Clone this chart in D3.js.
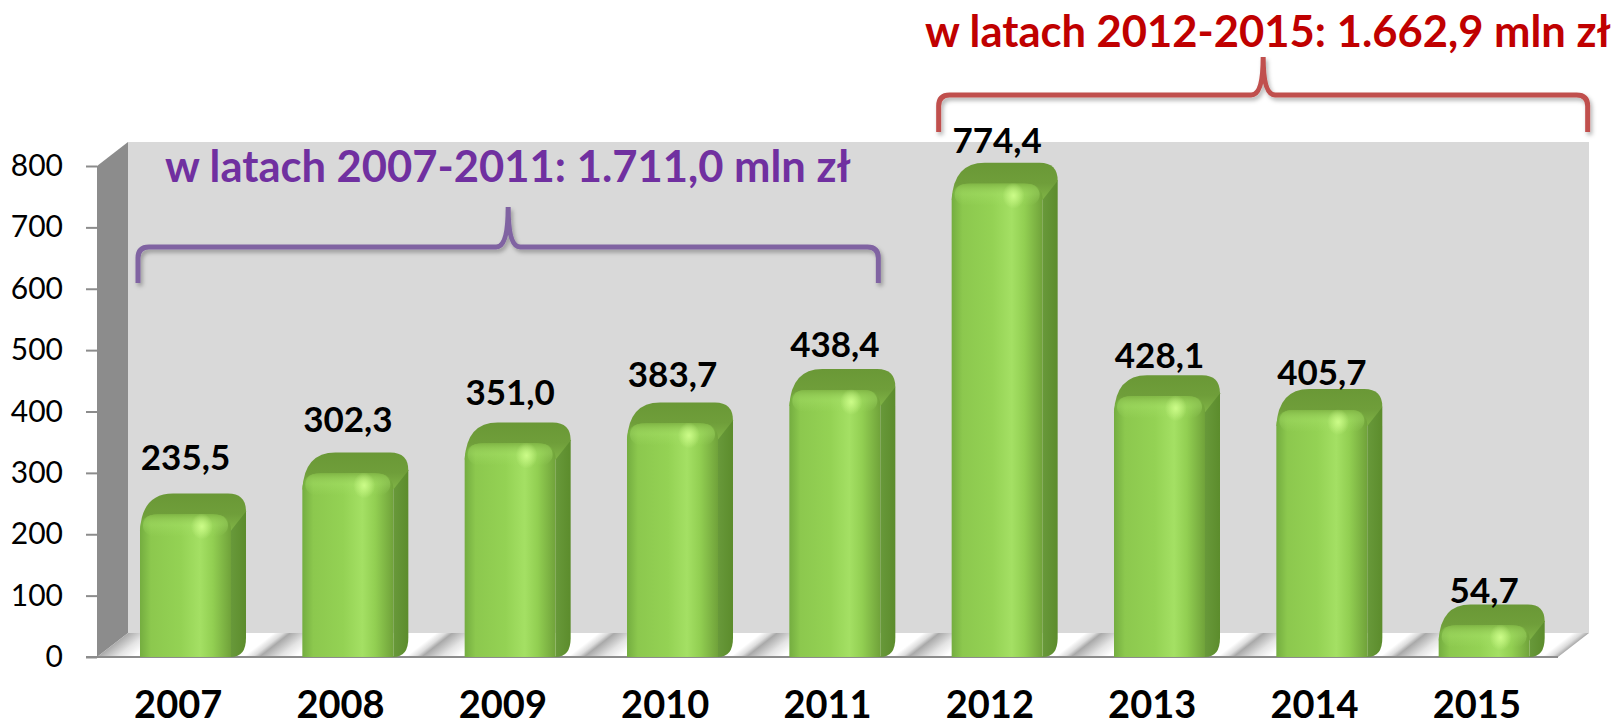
<!DOCTYPE html>
<html>
<head>
<meta charset="utf-8">
<script src="https://cdn.jsdelivr.net/npm/d3@7"></script>
<style>
  body { margin: 0; background: #fff; }
  svg { display: block; }
  text { font-family: Lato, "Open Sans", sans-serif; }
</style>
</head>
<body>
<div id="chart"></div>
<script>
var years = ["2007", "2008", "2009", "2010", "2011", "2012", "2013", "2014", "2015"];
var values = [235.5, 302.3, 351.0, 383.7, 438.4, 774.4, 428.1, 405.7, 54.7];
var yTicks = [0, 100, 200, 300, 400, 500, 600, 700, 800];
var groupTitles = ["w latach 2007-2011: 1.711,0 mln zł", "w latach 2012-2015: 1.662,9 mln zł"];
var groupYears = [["2007", "2011"], ["2012", "2015"]];

var svgWidth = 1617;
var svgHeight = 727;

// front edge of the plot, and the 3d depth of walls / bars
var plotLeft = 97, plotRight = 1558, plotBottom = 657, plotTop = 166;
var depthX = 31, depthY = -24;
var barDX = 15, barDY = -19;
var barOffset = 43, barWidth = 91;

var svg = d3.select("#chart").append("svg")
    .attr("width", svgWidth)
    .attr("height", svgHeight);

var defs = svg.append("defs");

var x = d3.scaleBand().domain(years).range([plotLeft, plotRight]);
var y = d3.scaleLinear().domain([0, 800]).range([plotBottom, plotTop]);

// gradients
var front = defs.append("linearGradient").attr("id", "barFront")
    .attr("x1", 0).attr("x2", 1).attr("y1", 0).attr("y2", 0);
[[0, "#74ad40"], [0.12, "#8cc84e"], [0.45, "#94d254"], [0.66, "#a4e064"],
 [0.8, "#92cf52"], [1, "#70a23a"]].forEach(function(s) {
    front.append("stop").attr("offset", s[0]).attr("stop-color", s[1]);
});
var side = defs.append("linearGradient").attr("id", "barSide")
    .attr("x1", 0).attr("x2", 1).attr("y1", 0).attr("y2", 0);
side.append("stop").attr("offset", 0).attr("stop-color", "#68993a");
side.append("stop").attr("offset", 1).attr("stop-color", "#5c8c2c");

var topGrad = defs.append("linearGradient").attr("id", "barTop")
    .attr("x1", 0).attr("x2", 0).attr("y1", 1).attr("y2", 0);
topGrad.append("stop").attr("offset", 0).attr("stop-color", "#80b446");
topGrad.append("stop").attr("offset", 0.45).attr("stop-color", "#6f9e3a");
topGrad.append("stop").attr("offset", 1).attr("stop-color", "#6a9836");

var bevel = defs.append("linearGradient").attr("id", "bevel")
    .attr("x1", 0).attr("x2", 0).attr("y1", 0).attr("y2", 1);
bevel.append("stop").attr("offset", 0).attr("stop-color", "#7fb444").attr("stop-opacity", 0.9);
bevel.append("stop").attr("offset", 0.5).attr("stop-color", "#a8e26a").attr("stop-opacity", 0.35);
bevel.append("stop").attr("offset", 1).attr("stop-color", "#a8e26a").attr("stop-opacity", 0);

var spot = defs.append("radialGradient").attr("id", "spot");
spot.append("stop").attr("offset", 0).attr("stop-color", "#d0ff8c").attr("stop-opacity", 0.9);
spot.append("stop").attr("offset", 1).attr("stop-color", "#d0ff8c").attr("stop-opacity", 0);

var floorGrad = defs.append("linearGradient").attr("id", "floorGrad")
    .attr("gradientUnits", "userSpaceOnUse")
    .attr("x1", plotLeft).attr("x2", plotLeft + x.step()).attr("y1", plotBottom).attr("y2", plotBottom)
    .attr("spreadMethod", "repeat")
    .attr("gradientTransform", "translate(" + plotLeft + "," + plotBottom + ") skewX(-52) translate(" + (-plotLeft) + "," + (-plotBottom) + ")");
[[0, "#a9a9a9"], [0.12, "#e4e4e4"], [0.22, "#ffffff"], [0.9, "#ffffff"], [0.96, "#dcdcdc"], [1, "#a9a9a9"]]
    .forEach(function(s) {
        floorGrad.append("stop").attr("offset", s[0]).attr("stop-color", s[1]);
    });

var shadow = defs.append("filter").attr("id", "shadow")
    .attr("x", "-5%").attr("y", "-20%").attr("width", "110%").attr("height", "160%");
shadow.append("feDropShadow").attr("dx", 2).attr("dy", 3).attr("stdDeviation", 2)
    .attr("flood-color", "#000").attr("flood-opacity", 0.3);

// walls
var walls = svg.append("g");
walls.append("rect")
    .attr("x", plotLeft + depthX).attr("y", plotTop + depthY)
    .attr("width", plotRight - plotLeft).attr("height", plotBottom - plotTop)
    .attr("fill", "#d9d9d9");
walls.append("path")
    .attr("d", "M" + plotLeft + "," + plotTop + " L" + (plotLeft + depthX) + "," + (plotTop + depthY) +
        " L" + (plotLeft + depthX) + "," + (plotBottom + depthY) + " L" + plotLeft + "," + plotBottom + " Z")
    .attr("fill", "#8c8c8c");
walls.append("path")
    .attr("d", "M" + plotLeft + "," + plotBottom + " L" + (plotLeft + depthX) + "," + (plotBottom + depthY) +
        " L" + (plotRight + depthX) + "," + (plotBottom + depthY) + " L" + plotRight + "," + plotBottom + " Z")
    .attr("fill", "url(#floorGrad)");
walls.append("line")
    .attr("x1", 86).attr("x2", plotRight).attr("y1", plotBottom).attr("y2", plotBottom)
    .attr("stroke", "#8c8c8c").attr("stroke-width", 2);

// y axis
var yAxis = svg.append("g")
    .attr("transform", "translate(" + plotLeft + ",0)")
    .call(d3.axisLeft(y).tickValues(yTicks).tickSize(11).tickPadding(23));
yAxis.select(".domain").remove();
yAxis.selectAll(".tick line").attr("stroke", "#8c8c8c").attr("stroke-width", 2);
yAxis.selectAll(".tick text")
    .attr("font-size", "30px").attr("fill", "#000")
    .style("font-family", "Lato, sans-serif");

// x axis labels
var xAxis = svg.append("g")
    .attr("transform", "translate(0," + plotBottom + ")")
    .call(d3.axisBottom(x).tickSize(0).tickPadding(0));
xAxis.select(".domain").remove();
xAxis.selectAll(".tick text")
    .attr("y", 61).attr("dy", 0)
    .attr("font-size", "38px").attr("font-weight", "bold").attr("fill", "#000")
    .style("font-family", "Lato, sans-serif");

// bars
var bars = svg.append("g").selectAll("g").data(years).enter().append("g");

bars.each(function(yr, i) {
    var g = d3.select(this);
    var x0 = x(yr) + barOffset, x1 = x0 + barWidth;
    var yt = y(values[i]), yb = y(0);
    var r = Math.min(18, (yb - yt) / 2);

    // side face
    g.append("path")
        .attr("d", "M" + x1 + "," + (yt + r) +
            " Q" + (x1 + 2) + "," + (yt + barDY + 2) + " " + (x1 + barDX) + "," + (yt + barDY + r) +
            " L" + (x1 + barDX) + "," + (yb + barDY) +
            " Q" + (x1 + barDX) + "," + yb + " " + x1 + "," + yb + " Z")
        .attr("fill", "url(#barSide)");

    // top face
    g.append("path")
        .attr("d", "M" + x0 + "," + (yt + r) +
            " Q" + (x0 + 2) + "," + (yt + barDY) + " " + (x0 + barDX + r) + "," + (yt + barDY) +
            " L" + (x1 + barDX - r) + "," + (yt + barDY) +
            " Q" + (x1 + barDX) + "," + (yt + barDY) + " " + (x1 + barDX) + "," + (yt + barDY + r) +
            " L" + x1 + "," + (yt + r) + " Z")
        .attr("fill", "url(#barTop)");

    // front face
    g.append("path")
        .attr("d", "M" + x0 + "," + yb + " L" + x0 + "," + (yt + r) +
            " Q" + x0 + "," + (yt + 2) + " " + (x0 + r) + "," + (yt + 2) +
            " L" + (x1 - r) + "," + (yt + 2) +
            " Q" + x1 + "," + (yt + 2) + " " + x1 + "," + (yt + r) +
            " L" + x1 + "," + yb + " Z")
        .attr("fill", "url(#barFront)");

    g.append("rect")
        .attr("x", x0 + 3).attr("y", yt + 2)
        .attr("width", barWidth - 6).attr("height", Math.min(22, yb - yt - 2))
        .attr("rx", 12)
        .attr("fill", "url(#bevel)");

    g.append("ellipse")
        .attr("cx", x0 + barWidth * 0.68).attr("cy", yt + 14)
        .attr("rx", 11).attr("ry", 13)
        .attr("fill", "url(#spot)");

    // value label, lifted a bit more on the left (perspective of the original)
    var gap = 23.6 - 2.8 * i;
    g.append("text")
        .attr("x", x0 + barWidth / 2)
        .attr("y", yt + barDY - gap)
        .attr("text-anchor", "middle")
        .attr("font-size", "35px").attr("font-weight", "bold").attr("fill", "#000")
        .text(d3.format(".1f")(values[i]).replace(".", ","));
});

// group brackets
function bracket(x0, x1, yLine, yEnd, yTip, color) {
    var xm = (x0 + x1) / 2, r = 11;
    var d = "M" + x0 + "," + yEnd + " L" + x0 + "," + (yLine + r) +
        " Q" + x0 + "," + yLine + " " + (x0 + r) + "," + yLine +
        " L" + (xm - 12) + "," + yLine +
        " Q" + xm + "," + yLine + " " + xm + "," + yTip +
        " Q" + xm + "," + yLine + " " + (xm + 12) + "," + yLine +
        " L" + (x1 - r) + "," + yLine +
        " Q" + x1 + "," + yLine + " " + x1 + "," + (yLine + r) +
        " L" + x1 + "," + yEnd;
    svg.append("path").attr("d", d)
        .attr("fill", "none").attr("stroke", color).attr("stroke-width", 5)
        .attr("filter", "url(#shadow)");
}
bracket(x(groupYears[0][0]) + 41, x(groupYears[0][1]) + 132, 247, 283, 207, "#8064a2");
bracket(x(groupYears[1][0]) + 30, x(groupYears[1][1]) + 192, 95, 132, 57, "#c0504d");

// titles, fitted to the width they take in the original
var t1 = svg.append("text")
    .attr("x", 165).attr("y", 182)
    .attr("font-size", "44px").attr("font-weight", "bold").attr("fill", "#7030a0")
    .text(groupTitles[0]);
var fs = 44 * 686 / t1.node().getComputedTextLength();
t1.attr("font-size", fs + "px");

svg.append("text")
    .attr("x", 925).attr("y", 47)
    .attr("font-size", fs + "px").attr("font-weight", "bold").attr("fill", "#c00000")
    .text(groupTitles[1]);
</script>
</body>
</html>
